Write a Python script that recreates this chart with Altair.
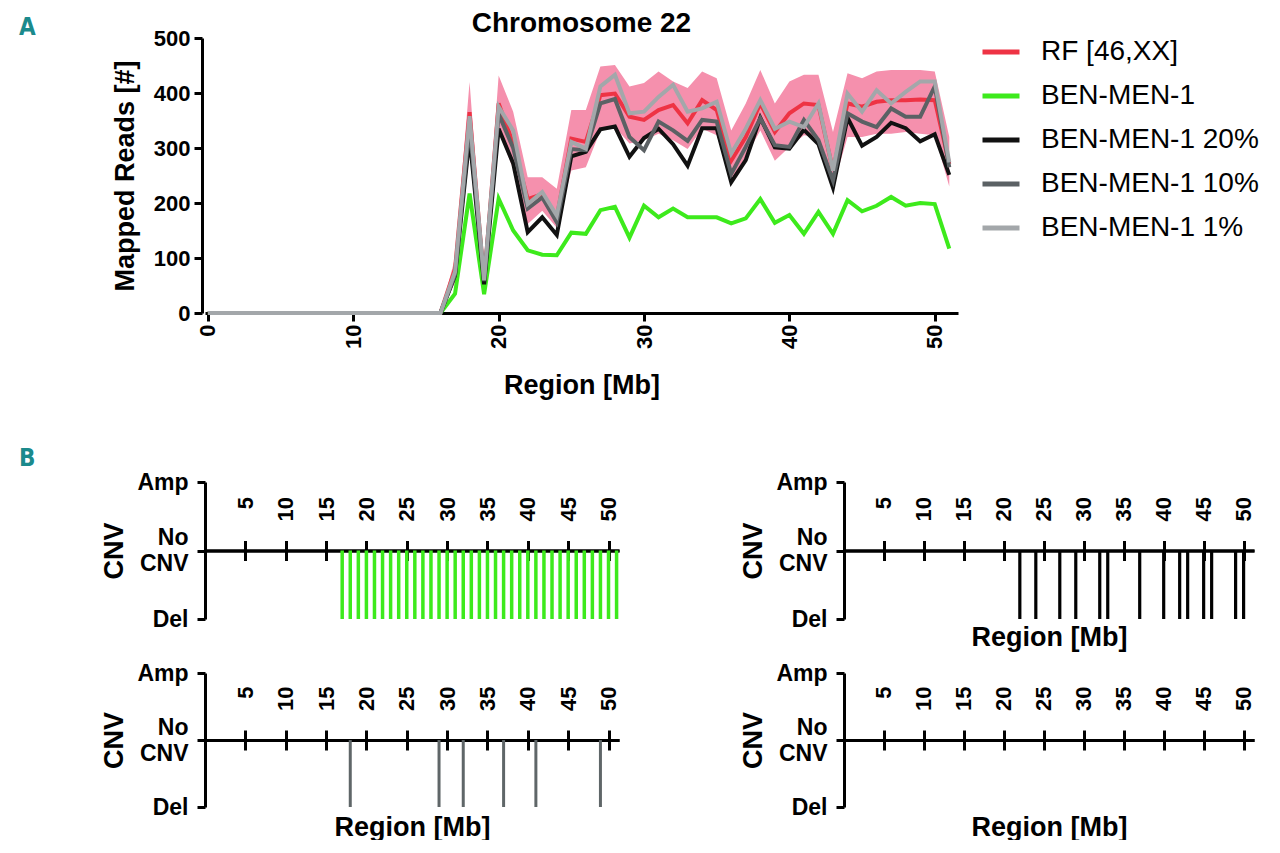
import altair as alt
import pandas as pd

# ---------------- Panel A data ----------------
region_mb = list(range(0, 52))
zeros = [0] * 17
rf_46xx = zeros + [80, 365, 57, 381, 308, 207, 216, 174, 317, 311, 396, 399, 357, 351, 369, 378, 345, 387,
                   369, 277, 320, 381, 329, 363, 381, 378, 259, 381, 375, 384, 387, 387, 388, 387, 271]
rf_upper = zeros + [100, 420, 68, 432, 366, 247, 247, 226, 369, 369, 448, 451, 412, 418, 439, 421, 409, 439,
                    427, 332, 381, 442, 381, 421, 433, 433, 329, 436, 427, 439, 442, 442, 442, 439, 320]
rf_lower = zeros + [55, 320, 45, 330, 262, 162, 186, 155, 259, 265, 332, 338, 308, 314, 326, 314, 298, 335,
                    323, 241, 284, 332, 277, 302, 323, 320, 229, 320, 320, 326, 326, 329, 326, 323, 230]
ben_men_1 = zeros + [35, 217, 34, 208, 150, 114, 106, 105, 146, 144, 187, 193, 137, 195, 174, 190, 174, 174,
                     174, 163, 172, 207, 164, 178, 144, 184, 144, 205, 185, 195, 211, 195, 200, 198, 117]
ben_men_20 = zeros + [68, 320, 52, 335, 272, 147, 174, 142, 285, 293, 334, 339, 284, 318, 335, 307, 268, 336,
                      336, 238, 278, 355, 301, 299, 333, 307, 228, 355, 304, 320, 346, 336, 312, 325, 251]
ben_men_10 = zeros + [70, 340, 58, 362, 300, 190, 210, 165, 298, 296, 381, 389, 320, 296, 348, 332, 313, 351,
                      348, 253, 302, 354, 305, 302, 351, 314, 241, 363, 348, 338, 372, 357, 357, 412, 265]
ben_men_1pct = zeros + [75, 358, 60, 375, 332, 198, 220, 177, 311, 299, 412, 433, 363, 366, 393, 415, 366, 372,
                        384, 290, 335, 387, 335, 348, 338, 381, 259, 399, 366, 405, 381, 402, 421, 421, 274]

series_names = ["RF [46,XX]", "BEN-MEN-1", "BEN-MEN-1 20%", "BEN-MEN-1 10%", "BEN-MEN-1 1%"]
series_values = [rf_46xx, ben_men_1, ben_men_20, ben_men_10, ben_men_1pct]
series_colors = ["#ee3344", "#3dea1c", "#111111", "#5b6164", "#a3a7aa"]
band_color = "#f590ad"

x_ticks_a = [0, 10, 20, 30, 40, 50]
y_ticks_a = [0, 100, 200, 300, 400, 500]

# ---------------- Panel B data ----------------
cnv_ticks = [5, 10, 15, 20, 25, 30, 35, 40, 45, 50]
del_ben_men_1 = list(range(17, 52))
del_ben_men_20 = [22, 24, 27, 29, 32, 33, 37, 40, 42, 43, 45, 46, 49, 50]
del_ben_men_10 = [18, 29, 32, 37, 41, 49]
del_ben_men_1pct = []

FONT = "Liberation Sans"
LETTER_FONT = "Liberation Sans Narrow, DejaVu Sans Condensed, Liberation Sans"
TEAL = "#1b8a8c"

# ---------------- Panel A ----------------
W_A, H_A = 753, 275
xs_a = alt.Scale(domain=[-0.2, 51.6], nice=False, zero=False)
ys_a = alt.Scale(domain=[0, 500], nice=False)

x_axis_a = alt.Axis(values=x_ticks_a, tickSize=8, tickWidth=3, domainWidth=3, labelAngle=270,
                    labelAlign="right", labelBaseline="middle", labelFontSize=22, labelFontWeight="bold",
                    labelPadding=3, labelFlush=False, title="Region [Mb]", titleFontSize=27,
                    titleFontWeight="bold", titlePadding=24, grid=False)
y_axis_a = alt.Axis(values=y_ticks_a, offset=3, tickSize=8, tickWidth=3, domainWidth=3, labelFontSize=22,
                    labelFontWeight="bold", labelPadding=4, labelFlush=False, title="Mapped Reads [#]",
                    titleFontSize=27, titleFontWeight="bold", titlePadding=14, grid=False)

band_df = pd.DataFrame({"mb": region_mb, "lower": rf_lower, "upper": rf_upper})
band = alt.Chart(band_df).mark_area(color=band_color, opacity=1).encode(
    x=alt.X("mb:Q", scale=xs_a, axis=x_axis_a),
    y=alt.Y("lower:Q", scale=ys_a, axis=y_axis_a),
    y2="upper:Q",
)

color_scale = alt.Scale(domain=series_names, range=series_colors)
legend = alt.Legend(orient="none", legendX=775, legendY=-7, title=None, symbolType="stroke",
                    symbolSize=1369, symbolStrokeWidth=5, labelFontSize=28, labelFont=FONT,
                    labelOffset=19, rowPadding=9, padding=0, labelLimit=400, labelColor="black")

line_layers = []
for name, vals in zip(series_names, series_values):
    df = pd.DataFrame({"mb": region_mb, "reads": vals, "series": [name] * len(vals)})
    line_layers.append(
        alt.Chart(df).mark_line(strokeWidth=4).encode(
            x=alt.X("mb:Q", scale=xs_a, axis=x_axis_a),
            y=alt.Y("reads:Q", scale=ys_a, axis=y_axis_a),
            color=alt.Color("series:N", scale=color_scale, legend=legend),
        )
    )

letter_a = alt.Chart(pd.DataFrame({"t": ["A"]})).mark_text(
    font=LETTER_FONT, fontSize=24, fontWeight="bold", color=TEAL, align="left", baseline="middle"
).encode(text="t:N", x=alt.value(-186), y=alt.value(-10))

panel_a = alt.layer(band, *line_layers, letter_a).properties(
    width=W_A, height=H_A,
    title=alt.Title("Chromosome 22", fontSize=28, fontWeight="bold", anchor="middle", frame="group",
                    font=FONT, offset=-22),
)


# ---------------- Panel B ----------------
def cnv_panel(positions, color, width, height, stroke_w, title=None, letter=False):
    df = pd.DataFrame({"pos": pd.Series(positions, dtype="float"),
                       "top": pd.Series([0] * len(positions), dtype="float"),
                       "bot": pd.Series([-1] * len(positions), dtype="float")})
    xs = alt.Scale(domain=[0, 51.3], nice=False, zero=False)
    ys = alt.Scale(domain=[-1, 1], nice=False)
    y_axis = alt.Axis(values=[-1, 0, 1],
                      labelExpr="datum.value == 1 ? 'Amp' : (datum.value == 0 ? ['No\u00a0', 'CNV'] : 'Del')",
                      labelOffset={"condition": {"test": "datum.value === 0", "value": -13}, "value": 0},
                      tickSize=8, tickWidth=3, domainWidth=3, labelFontSize=23, labelFontWeight="bold",
                      labelPadding=9, labelLineHeight=26, labelBaseline="middle", title="CNV",
                      titleFontSize=27, titleFontWeight="bold", titlePadding=8, grid=False, labelFlush=False)
    top_axis = alt.Axis(orient="top", offset=-height / 2, values=cnv_ticks, tickSize=10, tickWidth=3,
                        domainWidth=3, labelAngle=270, labelAlign="right", labelBaseline="middle",
                        labelPadding=44, labelFontSize=22, labelFontWeight="bold", labelFlush=False,
                        labelOverlap=False, title=None, grid=False)
    bottom_kwargs = dict(orient="bottom", offset=-height / 2, values=cnv_ticks, tickSize=10, tickWidth=3,
                         domainWidth=3, labels=False, grid=False)
    if title:
        bottom_kwargs.update(title=title, titleX=width / 2, titleY=87,
                             titleFontSize=27, titleFontWeight="bold", titleBaseline="middle",
                             titleAlign="center", titleAngle=0)
    else:
        bottom_kwargs.update(title=None)
    bottom_axis = alt.Axis(**bottom_kwargs)

    rules = alt.Chart(df).mark_rule(color=color, strokeWidth=stroke_w).encode(
        x=alt.X("pos:Q", scale=xs, axis=top_axis),
        y=alt.Y("top:Q", scale=ys, axis=y_axis),
        y2="bot:Q",
    )
    ghost = alt.Chart(df).mark_rule(opacity=0).encode(
        x=alt.X("pos:Q", scale=xs, axis=bottom_axis),
        y=alt.Y("top:Q", scale=ys, axis=y_axis),
        y2="bot:Q",
    )
    layers = [rules, ghost]
    if letter:
        layers.append(
            alt.Chart(pd.DataFrame({"t": ["B"]})).mark_text(
                font=LETTER_FONT, fontSize=24, fontWeight="bold", color=TEAL, align="left",
                baseline="middle"
            ).encode(text="t:N", x=alt.value(-186), y=alt.value(-23))
        )
    return alt.layer(*layers).resolve_axis(x="independent").properties(width=width, height=height)


b1 = cnv_panel(del_ben_men_1, "#3dea1c", 414, 137, 3.5, title=None, letter=True)
b2 = cnv_panel(del_ben_men_20, "#000000", 410, 137, 3.2, title="Region [Mb]")
b3 = cnv_panel(del_ben_men_10, "#5f6668", 414, 134, 3, title="Region [Mb]")
b4 = cnv_panel(del_ben_men_1pct, "#000000", 410, 134, 3, title="Region [Mb]")

panel_b = alt.concat(b1, b2, b3, b4, columns=2, spacing={"row": 11, "column": 119})

chart = alt.vconcat(panel_a, panel_b, spacing=48).properties(
    padding={"left": 11, "top": 2, "right": 5, "bottom": 0}
).configure(font=FONT).configure_view(strokeWidth=0).configure_axis(
    domainColor="black", tickColor="black", labelColor="black", titleColor="black",
    labelFont=FONT, titleFont=FONT
)

chart.save("out.html", embed_options={"renderer": "svg", "actions": False})
